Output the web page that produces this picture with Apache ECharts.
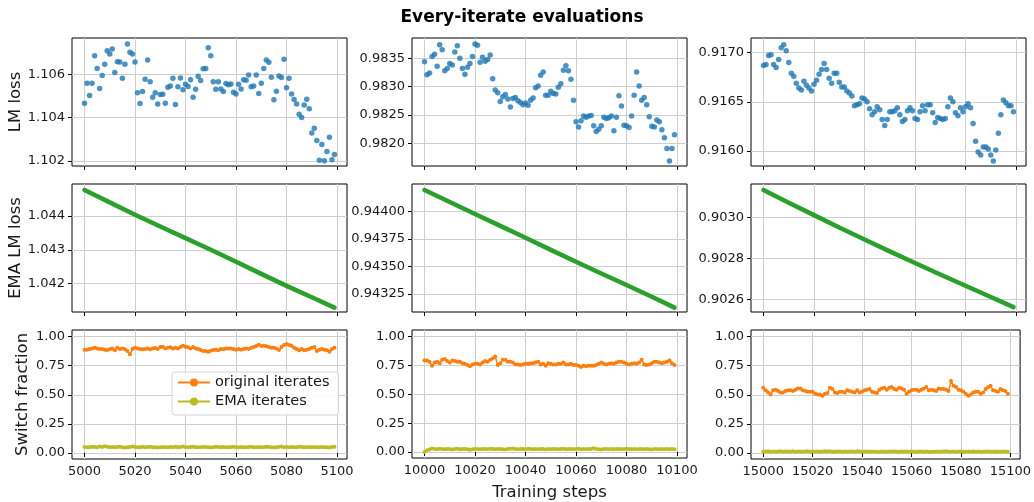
<!DOCTYPE html>
<html><head><meta charset="utf-8">
<script src="https://cdn.jsdelivr.net/npm/echarts@6/dist/echarts.min.js"></script>
<style>html,body{margin:0;padding:0;background:#fff}#c{width:1034px;height:502px}</style>
</head><body><div id="c"></div><script>
// ---------------- data ----------------
const startSteps = [5000, 10000, 15000];
const xTickLabels = [
  ['5000','5020','5040','5060','5080','5100'],
  ['10000','10020','10040','10060','10080','10100'],
  ['15000','15020','15040','15060','15080','15100']
];
const rowLabels = ['LM loss', 'EMA LM loss', 'Switch fraction'];
const xLabel = 'Training steps';
const titleText = 'Every-iterate evaluations';

const lmLoss1 = [1.10466,1.10558,1.10502,1.10558,1.10686,1.10626,1.10534,1.10594,1.10646,1.10709,
1.10694,1.10717,1.10608,1.10658,1.10657,1.10582,1.10646,1.10740,1.10702,1.10694,
1.10657,1.10515,1.10465,1.10520,1.10577,1.10666,1.10565,1.10494,1.10514,1.10462,
1.10506,1.10508,1.10466,1.10540,1.10546,1.10582,1.10460,1.10542,1.10583,1.10528,
1.10554,1.10543,1.10574,1.10494,1.10531,1.10591,1.10571,1.10625,1.10626,1.10722,
1.10686,1.10565,1.10531,1.10565,1.10532,1.10520,1.10557,1.10551,1.10555,1.10517,
1.10509,1.10554,1.10532,1.10574,1.10572,1.10597,1.10542,1.10546,1.10597,1.10511,
1.10558,1.10626,1.10666,1.10655,1.10586,1.10482,1.10522,1.10592,1.10585,1.10669,
1.10538,1.10582,1.10509,1.10483,1.10462,1.10415,1.10400,1.10458,1.10485,1.10440,
1.10329,1.10351,1.10294,1.10202,1.10275,1.10200,1.10243,1.10309,1.10205,1.10229];
const lmLoss2 = [0.98344,0.98321,0.98324,0.98353,0.98357,0.98336,0.98374,0.98365,0.98328,0.98332,
0.98341,0.98338,0.98361,0.98372,0.98350,0.98332,0.98322,0.98334,0.98341,0.98353,
0.98375,0.98373,0.98343,0.98352,0.98345,0.98348,0.98356,0.98314,0.98294,0.98289,
0.98274,0.98282,0.98286,0.98278,0.98264,0.98279,0.98281,0.98275,0.98272,0.98268,
0.98271,0.98267,0.98276,0.98280,0.98298,0.98301,0.98320,0.98326,0.98285,0.98285,
0.98292,0.98288,0.98287,0.98299,0.98305,0.98329,0.98337,0.98328,0.98313,0.98276,
0.98238,0.98229,0.98240,0.98248,0.98246,0.98248,0.98249,0.98231,0.98221,0.98225,
0.98231,0.98246,0.98244,0.98245,0.98248,0.98222,0.98246,0.98284,0.98266,0.98232,
0.98231,0.98228,0.98248,0.98285,0.98326,0.98301,0.98276,0.98281,0.98268,0.98247,
0.98230,0.98229,0.98241,0.98238,0.98224,0.98210,0.98191,0.98169,0.98191,0.98215];
const lmLoss3 = [0.91687,0.91688,0.91697,0.91698,0.91688,0.91685,0.91693,0.91705,0.91708,0.91702,
0.91690,0.91679,0.91676,0.91669,0.91664,0.91662,0.91671,0.91667,0.91664,0.91661,
0.91668,0.91672,0.91678,0.91683,0.91689,0.91683,0.91674,0.91669,0.91679,0.91679,
0.91670,0.91665,0.91665,0.91661,0.91659,0.91656,0.91646,0.91647,0.91648,0.91654,
0.91653,0.91650,0.91643,0.91637,0.91640,0.91645,0.91642,0.91632,0.91626,0.91632,
0.91640,0.91640,0.91641,0.91644,0.91637,0.91630,0.91632,0.91641,0.91644,0.91641,
0.91633,0.91632,0.91640,0.91646,0.91641,0.91647,0.91647,0.91639,0.91629,0.91634,
0.91633,0.91632,0.91633,0.91645,0.91654,0.91650,0.91639,0.91636,0.91644,0.91640,
0.91645,0.91648,0.91644,0.91628,0.91610,0.91599,0.91596,0.91604,0.91604,0.91602,
0.91596,0.91590,0.91601,0.91618,0.91637,0.91652,0.91649,0.91646,0.91646,0.91640];

// EMA LM loss read at every 10th step (offsets from start step)
const emaOffsets = [0,10,20,30,40,50,60,70,80,90,99];
const emaLoss1 = [1.044772,1.044406,1.044040,1.043693,1.043347,1.043000,1.042644,1.042287,1.041931,1.041594,1.041287];
const emaLoss2 = [0.944198,0.944088,0.943980,0.943871,0.943762,0.943652,0.943543,0.943437,0.943332,0.943224,0.943125];
const emaLoss3 = [0.903134,0.903072,0.903011,0.902951,0.902892,0.902834,0.902777,0.902721,0.902666,0.902611,0.902562];

const switchOrig1 = [0.888,0.888,0.894,0.899,0.905,0.899,0.894,0.894,0.888,0.885,
0.891,0.899,0.882,0.905,0.894,0.899,0.891,0.876,0.848,0.894,
0.905,0.899,0.894,0.891,0.894,0.897,0.891,0.899,0.902,0.894,
0.911,0.914,0.899,0.905,0.908,0.899,0.905,0.899,0.911,0.922,
0.914,0.908,0.899,0.911,0.899,0.894,0.885,0.876,0.876,0.871,
0.879,0.885,0.888,0.882,0.894,0.891,0.899,0.899,0.897,0.894,
0.888,0.894,0.888,0.894,0.899,0.894,0.905,0.911,0.920,0.931,
0.920,0.922,0.917,0.911,0.905,0.905,0.899,0.885,0.911,0.928,
0.937,0.928,0.922,0.905,0.894,0.882,0.894,0.882,0.888,0.894,
0.905,0.911,0.876,0.888,0.894,0.888,0.882,0.871,0.894,0.905];
const switchOrig2 = [0.793,0.793,0.782,0.747,0.776,0.782,0.770,0.799,0.805,0.788,
0.776,0.793,0.788,0.782,0.782,0.770,0.765,0.753,0.742,0.759,
0.765,0.765,0.759,0.776,0.788,0.782,0.799,0.811,0.828,0.753,
0.770,0.799,0.799,0.782,0.782,0.776,0.759,0.759,0.753,0.759,
0.765,0.765,0.770,0.770,0.776,0.782,0.759,0.765,0.747,0.770,
0.765,0.759,0.759,0.765,0.765,0.776,0.759,0.759,0.765,0.753,
0.753,0.747,0.736,0.747,0.742,0.747,0.747,0.747,0.753,0.765,
0.776,0.765,0.759,0.765,0.770,0.765,0.776,0.782,0.782,0.776,
0.765,0.759,0.765,0.770,0.765,0.776,0.799,0.759,0.753,0.759,
0.770,0.782,0.782,0.776,0.770,0.776,0.782,0.793,0.770,0.753];
const switchOrig3 = [0.561,0.538,0.520,0.503,0.538,0.543,0.532,0.520,0.520,0.532,
0.538,0.538,0.532,0.543,0.555,0.555,0.538,0.532,0.526,0.526,
0.526,0.509,0.503,0.503,0.492,0.509,0.515,0.561,0.549,0.520,
0.515,0.526,0.526,0.520,0.538,0.532,0.526,0.520,0.538,0.520,
0.526,0.538,0.543,0.549,0.526,0.520,0.515,0.543,0.555,0.561,
0.543,0.561,0.566,0.549,0.543,0.561,0.555,0.543,0.509,0.526,
0.538,0.543,0.543,0.532,0.543,0.555,0.566,0.538,0.543,0.538,
0.532,0.555,0.549,0.549,0.543,0.532,0.618,0.578,0.566,0.543,
0.538,0.526,0.509,0.492,0.503,0.520,0.526,0.526,0.509,0.520,
0.549,0.566,0.578,0.538,0.532,0.526,0.549,0.538,0.532,0.509];

const switchEma1 = [0.052,0.050,0.048,0.053,0.051,0.049,0.055,0.052,0.058,0.054,
0.050,0.052,0.048,0.051,0.053,0.049,0.047,0.050,0.052,0.055,
0.051,0.049,0.050,0.053,0.048,0.051,0.054,0.050,0.049,0.047,
0.050,0.052,0.049,0.048,0.051,0.050,0.053,0.049,0.052,0.055,
0.050,0.048,0.051,0.053,0.049,0.050,0.048,0.051,0.052,0.049,
0.047,0.050,0.053,0.051,0.049,0.052,0.050,0.048,0.051,0.054,
0.050,0.049,0.052,0.050,0.048,0.051,0.053,0.049,0.050,0.052,
0.048,0.050,0.053,0.051,0.049,0.047,0.050,0.052,0.055,0.050,
0.052,0.049,0.051,0.048,0.050,0.053,0.051,0.049,0.050,0.052,
0.048,0.051,0.049,0.050,0.052,0.048,0.050,0.047,0.051,0.053];
const switchEma2 = [0.000,0.015,0.022,0.030,0.026,0.024,0.028,0.025,0.023,0.027,
0.025,0.022,0.026,0.028,0.024,0.025,0.027,0.023,0.020,0.024,
0.026,0.025,0.023,0.027,0.025,0.024,0.028,0.026,0.023,0.025,
0.027,0.024,0.022,0.026,0.028,0.030,0.025,0.023,0.027,0.026,
0.024,0.028,0.025,0.023,0.026,0.024,0.027,0.025,0.022,0.026,
0.024,0.027,0.025,0.023,0.026,0.028,0.024,0.025,0.027,0.023,
0.025,0.028,0.024,0.026,0.023,0.025,0.027,0.032,0.026,0.024,
0.022,0.025,0.027,0.024,0.026,0.023,0.025,0.027,0.024,0.026,
0.028,0.025,0.023,0.026,0.024,0.027,0.025,0.023,0.026,0.024,
0.022,0.025,0.027,0.024,0.026,0.023,0.025,0.024,0.026,0.023];
const switchEma3 = [0.010,0.012,0.014,0.011,0.013,0.010,0.012,0.015,0.011,0.013,
0.012,0.010,0.014,0.011,0.012,0.013,0.010,0.012,0.014,0.011,
0.012,0.010,0.013,0.011,0.012,0.014,0.012,0.015,0.011,0.010,
0.012,0.013,0.011,0.012,0.010,0.013,0.012,0.011,0.014,0.012,
0.010,0.012,0.013,0.011,0.012,0.010,0.011,0.009,0.012,0.010,
0.011,0.013,0.012,0.014,0.011,0.010,0.012,0.011,0.013,0.010,
0.012,0.011,0.010,0.012,0.013,0.011,0.012,0.009,0.011,0.010,
0.012,0.011,0.013,0.012,0.014,0.011,0.010,0.012,0.011,0.013,
0.012,0.010,0.011,0.012,0.010,0.013,0.011,0.012,0.010,0.011,
0.013,0.012,0.010,0.011,0.012,0.010,0.011,0.012,0.010,0.011];

const yTickLabels = [
  ['1.102','1.104','1.106'], ['0.9820','0.9825','0.9830','0.9835'], ['0.9160','0.9165','0.9170'],
  ['1.042','1.043','1.044'], ['0.94325','0.94350','0.94375','0.94400'], ['0.9026','0.9028','0.9030'],
  ['0.00','0.25','0.50','0.75','1.00'], ['0.00','0.25','0.50','0.75','1.00'], ['0.00','0.25','0.50','0.75','1.00']
];
const seriesNames = ['original iterates', 'EMA iterates'];

// ---------------- layout / style ----------------
const yRanges = [
  [1.10176, 1.107675], [0.98160, 0.983858], [0.915848, 0.917149],
  [1.041157, 1.04495], [0.943085, 0.944253], [0.902538, 0.903163],
  [-0.052, 1.057], [-0.052, 1.057], [-0.052, 1.057]
];
const colLeft = [72, 412, 751];
const colWidth = 275;
const rowTop = [38, 184, 330];
const rowHeight = [128, 128, 129];
const FONT = 'DejaVu Sans';
const C = { blue:'#1f77b4', green:'#2ca02c', orange:'#ff7f0e', olive:'#bcbd22', grid:'#cfcfcf', text:'#1a1a1a' };

const lmLoss = [lmLoss1, lmLoss2, lmLoss3];
const emaLoss = [emaLoss1, emaLoss2, emaLoss3];
const switchOrig = [switchOrig1, switchOrig2, switchOrig3];
const switchEma = [switchEma1, switchEma2, switchEma3];

const grids = [], xAxes = [], yAxes = [], series = [];
for (let r = 0; r < 3; r++) {
  for (let c = 0; c < 3; c++) {
    const idx = r * 3 + c;
    const s0 = startSteps[c];
    grids.push({ left: colLeft[c], top: rowTop[r], width: colWidth, height: rowHeight[r],
      show: true, borderColor: '#000', borderWidth: 1, backgroundColor: 'transparent' });
    const xt = xTickLabels[c].map(Number);
    xAxes.push({
      type: 'value', gridIndex: idx, min: s0 - 4.95, max: s0 + 103.95,
      axisLine: { show: false },
      axisTick: { show: true, length: 4, lineStyle: { color: '#000', width: 1 }, customValues: xt },
      axisLabel: { show: r === 2, customValues: xt, margin: 6, fontSize: 13, color: C.text, fontFamily: FONT,
        formatter: v => String(Math.round(v)) },
      splitLine: { show: true, lineStyle: { color: C.grid, width: 1 } },
      name: (r === 2 && c === 1) ? xLabel : '', nameLocation: 'middle', nameGap: 26,
      nameTextStyle: { fontSize: 16.5, color: C.text, fontFamily: FONT }
    });
    const ylab = yTickLabels[idx];
    const yt = ylab.map(Number);
    yAxes.push({
      type: 'value', gridIndex: idx, min: yRanges[idx][0], max: yRanges[idx][1],
      axisLine: { show: false },
      axisTick: { show: true, length: 4, lineStyle: { color: '#000', width: 1 }, customValues: yt },
      axisLabel: { show: true, customValues: yt, margin: 7, fontSize: 13, color: C.text, fontFamily: FONT,
        formatter: v => { let best = ylab[0], bd = Infinity; ylab.forEach(l => { const d = Math.abs(Number(l) - v); if (d < bd) { bd = d; best = l; } }); return best; } },
      splitLine: { show: true, lineStyle: { color: C.grid, width: 1 } },
      name: c === 0 ? rowLabels[r] : '', nameLocation: 'middle', nameGap: 41,
      nameTextStyle: { fontSize: 16.5, color: C.text, fontFamily: FONT }
    });
    if (r === 0) {
      series.push({ type: 'scatter', xAxisIndex: idx, yAxisIndex: idx, symbolSize: 5.5,
        itemStyle: { color: C.blue }, data: lmLoss[c].map((v, j) => [s0 + j, v]) });
    } else if (r === 1) {
      series.push({ type: 'line', xAxisIndex: idx, yAxisIndex: idx, showSymbol: false, smooth: false,
        lineStyle: { color: C.green, width: 4.5, cap: 'round', join: 'round' },
        data: emaOffsets.map((o, j) => [s0 + o, emaLoss[c][j]]) });
    } else {
      series.push({ type: 'line', name: seriesNames[0], xAxisIndex: idx, yAxisIndex: idx,
        symbol: 'circle', symbolSize: 4, showSymbol: true,
        itemStyle: { color: C.orange }, lineStyle: { color: C.orange, width: 1.5 },
        data: switchOrig[c].map((v, j) => [s0 + j, v]) });
      series.push({ type: 'line', name: seriesNames[1], xAxisIndex: idx, yAxisIndex: idx,
        symbol: 'circle', symbolSize: 4, showSymbol: true,
        itemStyle: { color: C.olive }, lineStyle: { color: C.olive, width: 1.5 },
        data: switchEma[c].map((v, j) => [s0 + j, v]) });
    }
  }
}

const chart = echarts.init(document.getElementById('c'), null, { renderer: 'canvas' });
chart.setOption({
  animation: false,
  backgroundColor: '#fff',
  textStyle: { fontFamily: FONT },
  title: { text: titleText, left: 517, top: 4, textAlign: 'center',
    textStyle: { fontSize: 17, fontWeight: 'bold', color: '#000', fontFamily: FONT } },
  legend: { data: seriesNames, orient: 'vertical', left: 172, top: 372, itemWidth: 32, itemHeight: 10, itemGap: 4,
    padding: [3, 9, 6, 5], backgroundColor: 'rgba(255,255,255,0.85)', borderColor: '#d5d5d5', borderWidth: 1, borderRadius: 3,
    textStyle: { fontSize: 14.5, color: C.text, fontFamily: FONT } },
  grid: grids, xAxis: xAxes, yAxis: yAxes, series: series
});
</script></body></html>
